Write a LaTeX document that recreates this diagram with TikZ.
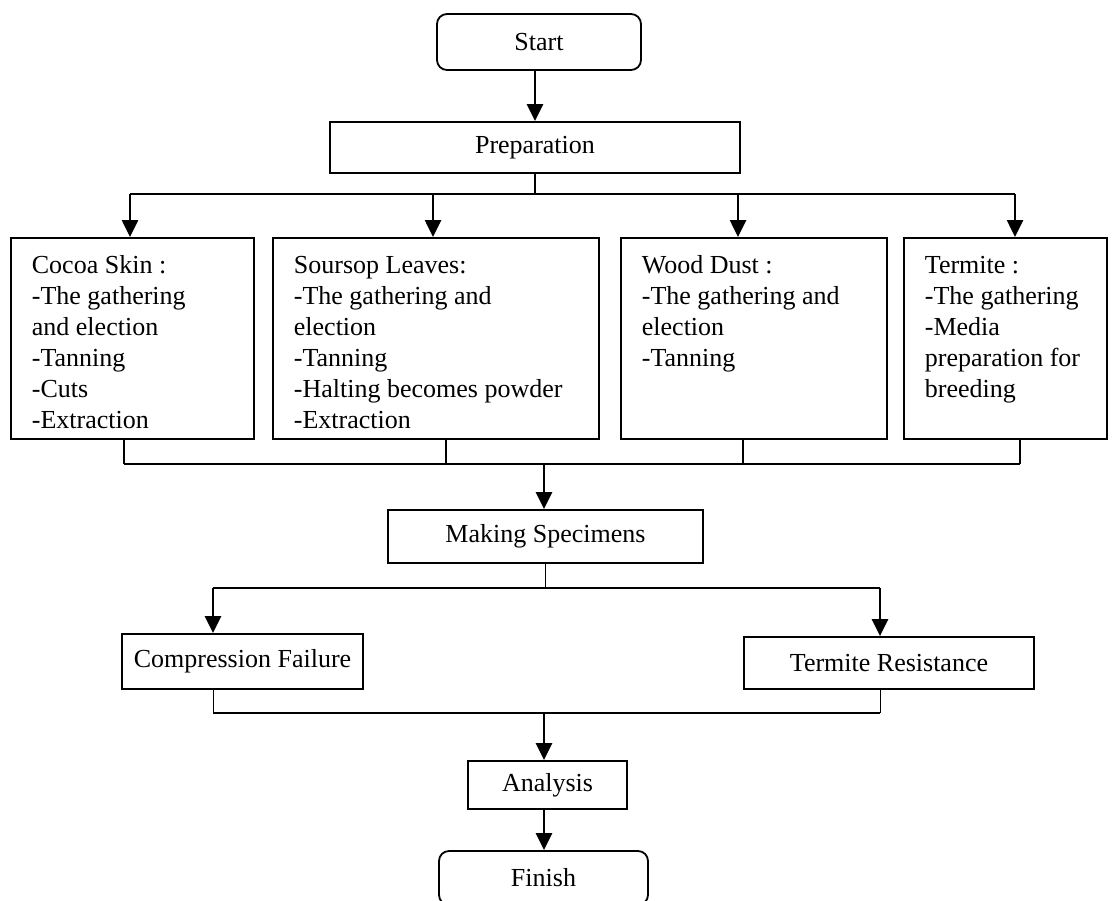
\documentclass[tikz,border=0pt]{standalone}
\usepackage{fontspec}
\setmainfont{Liberation Serif}
\usetikzlibrary{positioning, arrows.meta}

\begin{document}
\begin{tikzpicture}[x=0.5pt, y=-0.5pt, font=\fontsize{13}{15.5}\selectfont,
    stepbox/.style={draw, line width=0.9pt, inner sep=0pt, align=center},
    endbox/.style={stepbox, rounded corners=5pt},
    listbox/.style={draw, line width=0.9pt, anchor=north west, inner xsep=10.5pt, inner ysep=9pt},
    flow/.style={line width=1.3pt, -{Triangle[length=8.5pt, width=8pt]}},
    bus/.style={line width=1.3pt},
    thinline/.style={line width=0.5pt},
  ]
  \useasboundingbox (0,0) rectangle (1118,900);

  % start and preparation
  \node[endbox, minimum width=102pt, minimum height=28pt] (start) at (539,42) {Start};
  \node[stepbox, minimum width=205pt, minimum height=25.5pt] (prep) at (535,147.5) {Preparation};
  \draw[flow] (start.south -| prep) -- (prep.north);

  % the four material boxes
  \node[listbox] (cocoa) at (10,237) {\parbox[c][82.5pt][t]{100.5pt}{\raggedright
    Cocoa Skin :\\-The gathering\\and election\\-Tanning\\-Cuts\\-Extraction}};
  \node[listbox] (soursop) at (272,237) {\parbox[c][82.5pt][t]{142pt}{\raggedright
    Soursop Leaves:\\-The gathering and\\election\\-Tanning\\-Halting becomes powder\\-Extraction}};
  \node[listbox] (wood) at (620,237) {\parbox[c][82.5pt][t]{112pt}{\raggedright
    Wood Dust :\\-The gathering and\\election\\-Tanning}};
  \node[listbox] (termite) at (903,237) {\parbox[c][82.5pt][t]{80.5pt}{\raggedright
    Termite :\\-The gathering\\-Media\\preparation for\\breeding}};

  % split after preparation
  \coordinate (fork) at (535,194);
  \draw[bus] (prep.south) -- (fork);
  \foreach \x/\n in {130/cocoa, 433/soursop, 738/wood, 1015/termite} {
    \coordinate (tap-\n) at (\x,194);
    \draw[flow] (tap-\n) -- (tap-\n |- \n.north);
  }
  \draw[bus] (tap-cocoa) -- (tap-termite);

  % merge into specimens
  \node[stepbox, minimum width=157.5pt, minimum height=26.5pt] (making) at (545.5,536.5) {Making Specimens};
  \foreach \x/\n in {124/cocoa, 446/soursop, 743/wood, 1020/termite} {
    \coordinate (out-\n) at (\x,464);
    \draw[bus] (out-\n |- \n.south) -- (out-\n);
  }
  \draw[bus] (out-cocoa) -- (out-termite);
  \coordinate (merge) at (544,464);
  \draw[flow] (merge) -- (merge |- making.north);

  % the two tests
  \node[stepbox, minimum width=120.5pt, minimum height=27.5pt] (comp) at (242.5,661.5) {Compression Failure};
  \node[stepbox, minimum width=145pt, minimum height=26pt] (resist) at (889,663) {Termite Resistance};
  \coordinate (splitL) at (213,588);
  \coordinate (splitR) at (880,588);
  \draw[thinline] (making.south) -- (making.south |- splitL);
  \draw[bus] (splitL) -- (splitR);
  \draw[flow] (splitL) -- (splitL |- comp.north);
  \draw[flow] (splitR) -- (splitR |- resist.north);

  % analysis and finish
  \node[stepbox, minimum width=79.5pt, minimum height=24pt] (analysis) at (547.5,785) {Analysis};
  \node[endbox, minimum width=104.5pt, minimum height=27pt] (finish) at (543.5,878) {Finish};
  \coordinate (joinL) at (213,713);
  \coordinate (joinR) at (880,713);
  \coordinate (join) at (544,713);
  \draw[thinline] (joinL |- comp.south) -- (joinL);
  \draw[thinline] (joinR |- resist.south) -- (joinR);
  \draw[bus] (joinL) -- (joinR);
  \draw[flow] (join) -- (join |- analysis.north);
  \draw[flow] (join |- analysis.south) -- (join |- finish.north);
\end{tikzpicture}
\end{document}
